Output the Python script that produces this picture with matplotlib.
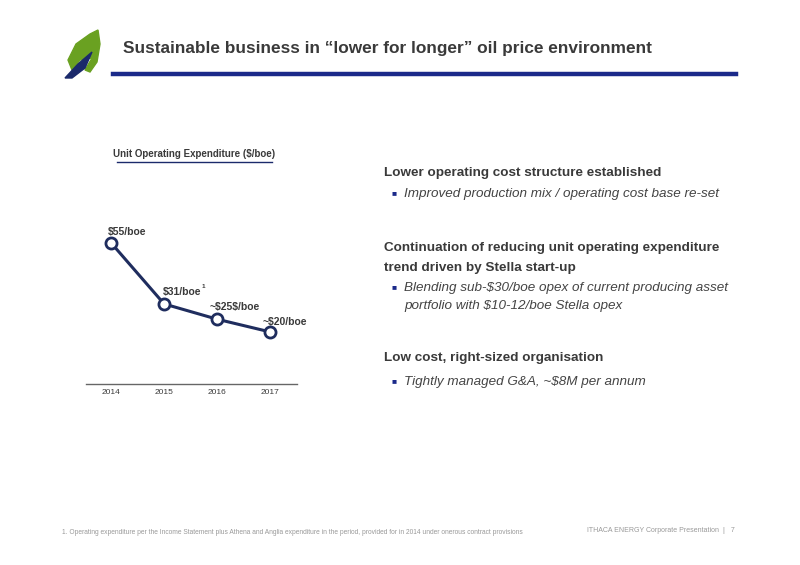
import matplotlib
matplotlib.use("Agg")
import matplotlib.pyplot as plt
from matplotlib.patches import Polygon

years = ["2014", "2015", "2016", "2017"]
opex = [55, 31, 25, 20]
labels = ["$55/boe", "$31/boe", "~$25$/boe", "~$20/boe"]

W, H = 800, 565
plt.rcParams['font.family'] = ['Liberation Sans', 'DejaVu Sans']
plt.rcParams['text.parse_math'] = False
fig = plt.figure(figsize=(8, 5.65), dpi=100)

def fx(x): return x / W
def fy(y): return 1 - y / H

navy = "#1f2d5e"
dark = "#3a3a3a"

bg = fig.add_axes([0, 0, 1, 1], zorder=-1)
bg.set_xlim(0, W); bg.set_ylim(H, 0); bg.axis("off")
bg.add_patch(Polygon([(68, 60), (76, 44), (90, 34), (98, 30), (100, 44), (97, 62), (90, 72), (85, 70), (92, 58), (80, 60), (72, 70)],
                     closed=True, color="#6aa121"))
bg.add_patch(Polygon([(65, 78), (78, 64), (92, 52), (85, 68), (72, 78)], closed=True, color="#1b2a6b"))
fig.text(fx(123), fy(49), "Sustainable business in \u201clower for longer\u201d oil price environment",
         fontsize=12.4, fontweight="bold", color=dark, va="center", ha="left")
bg.plot([113, 736], [74, 74], color="#1b2a8a", lw=3.2)
bg.plot([86, 297], [384, 384], color="#666666", lw=1)

ax = fig.add_axes([fx(86), fy(383), fx(297 - 86), (60 * 2.55) / H])
ax.set_xlim(-0.47, 3.5)
ax.set_ylim(0, 60)
ax.axis("off")
x = list(range(len(years)))
ax.plot(x, opex, color=navy, lw=2.2, marker="o", ms=8, mfc="white", mec=navy, mew=2, clip_on=False)
offs = [(-3, 11), (-1, 12), (-8, 12), (-8, 10)]
for i, (v, lab) in enumerate(zip(opex, labels)):
    ax.annotate(lab, (i, v), xytext=offs[i], textcoords="offset pixels", fontsize=7.5, fontweight="bold",
                color=dark, ha="left", va="center", annotation_clip=False)
    if i == 1:
        ax.annotate("1", (i, v), xytext=(offs[i][0] + 38, offs[i][1] + 5), textcoords="offset pixels",
                    fontsize=4.5, fontweight="bold", color=dark, ha="left", va="center", annotation_clip=False)
for i, y in enumerate(years):
    fig.text(fx(111 + 53 * i), fy(392), y, fontsize=6, color=dark, ha="center", va="center")

fig.text(fx(194), fy(154), "Unit Operating Expenditure ($/boe)", fontsize=7, fontweight="bold",
         color=dark, ha="center", va="center")
bg.plot([117, 272], [162, 162], color="#1b2a6b", lw=1)

hd = dict(fontsize=9.7, fontweight="bold", color=dark, ha="left", va="center")
it = dict(fontsize=9.7, style="italic", color="#444444", ha="left", va="center")
bul = dict(fontsize=6, color="#1b2a8a", ha="left", va="center")
fig.text(fx(384), fy(173), "Lower operating cost structure established", **hd)
fig.text(fx(391), fy(194), "\u25a0", **bul); fig.text(fx(404), fy(194), "Improved production mix / operating cost base re-set", **it)
fig.text(fx(384), fy(248), "Continuation of reducing unit operating expenditure", **hd)
fig.text(fx(384), fy(268), "trend driven by Stella start-up", **hd)
fig.text(fx(391), fy(288), "\u25a0", **bul)
fig.text(fx(404), fy(288), "Blending sub-$30/boe opex of current producing asset", **it)
fig.text(fx(404), fy(306), "portfolio with $10-12/boe Stella opex", **it)
fig.text(fx(384), fy(358), "Low cost, right-sized organisation", **hd)
fig.text(fx(391), fy(382), "\u25a0", **bul); fig.text(fx(404), fy(382), "Tightly managed G&A, ~$8M per annum", **it)

fig.text(fx(62), fy(532), "1. Operating expenditure per the Income Statement plus Athena and Anglia expenditure in the period, provided for in 2014 under onerous contract provisions",
         fontsize=4.8, color="#999999", ha="left", va="center")
fig.text(fx(735), fy(530), "ITHACA ENERGY Corporate Presentation  |   7", fontsize=5, color="#999999", ha="right", va="center")

fig.savefig("out.png", dpi=100)
